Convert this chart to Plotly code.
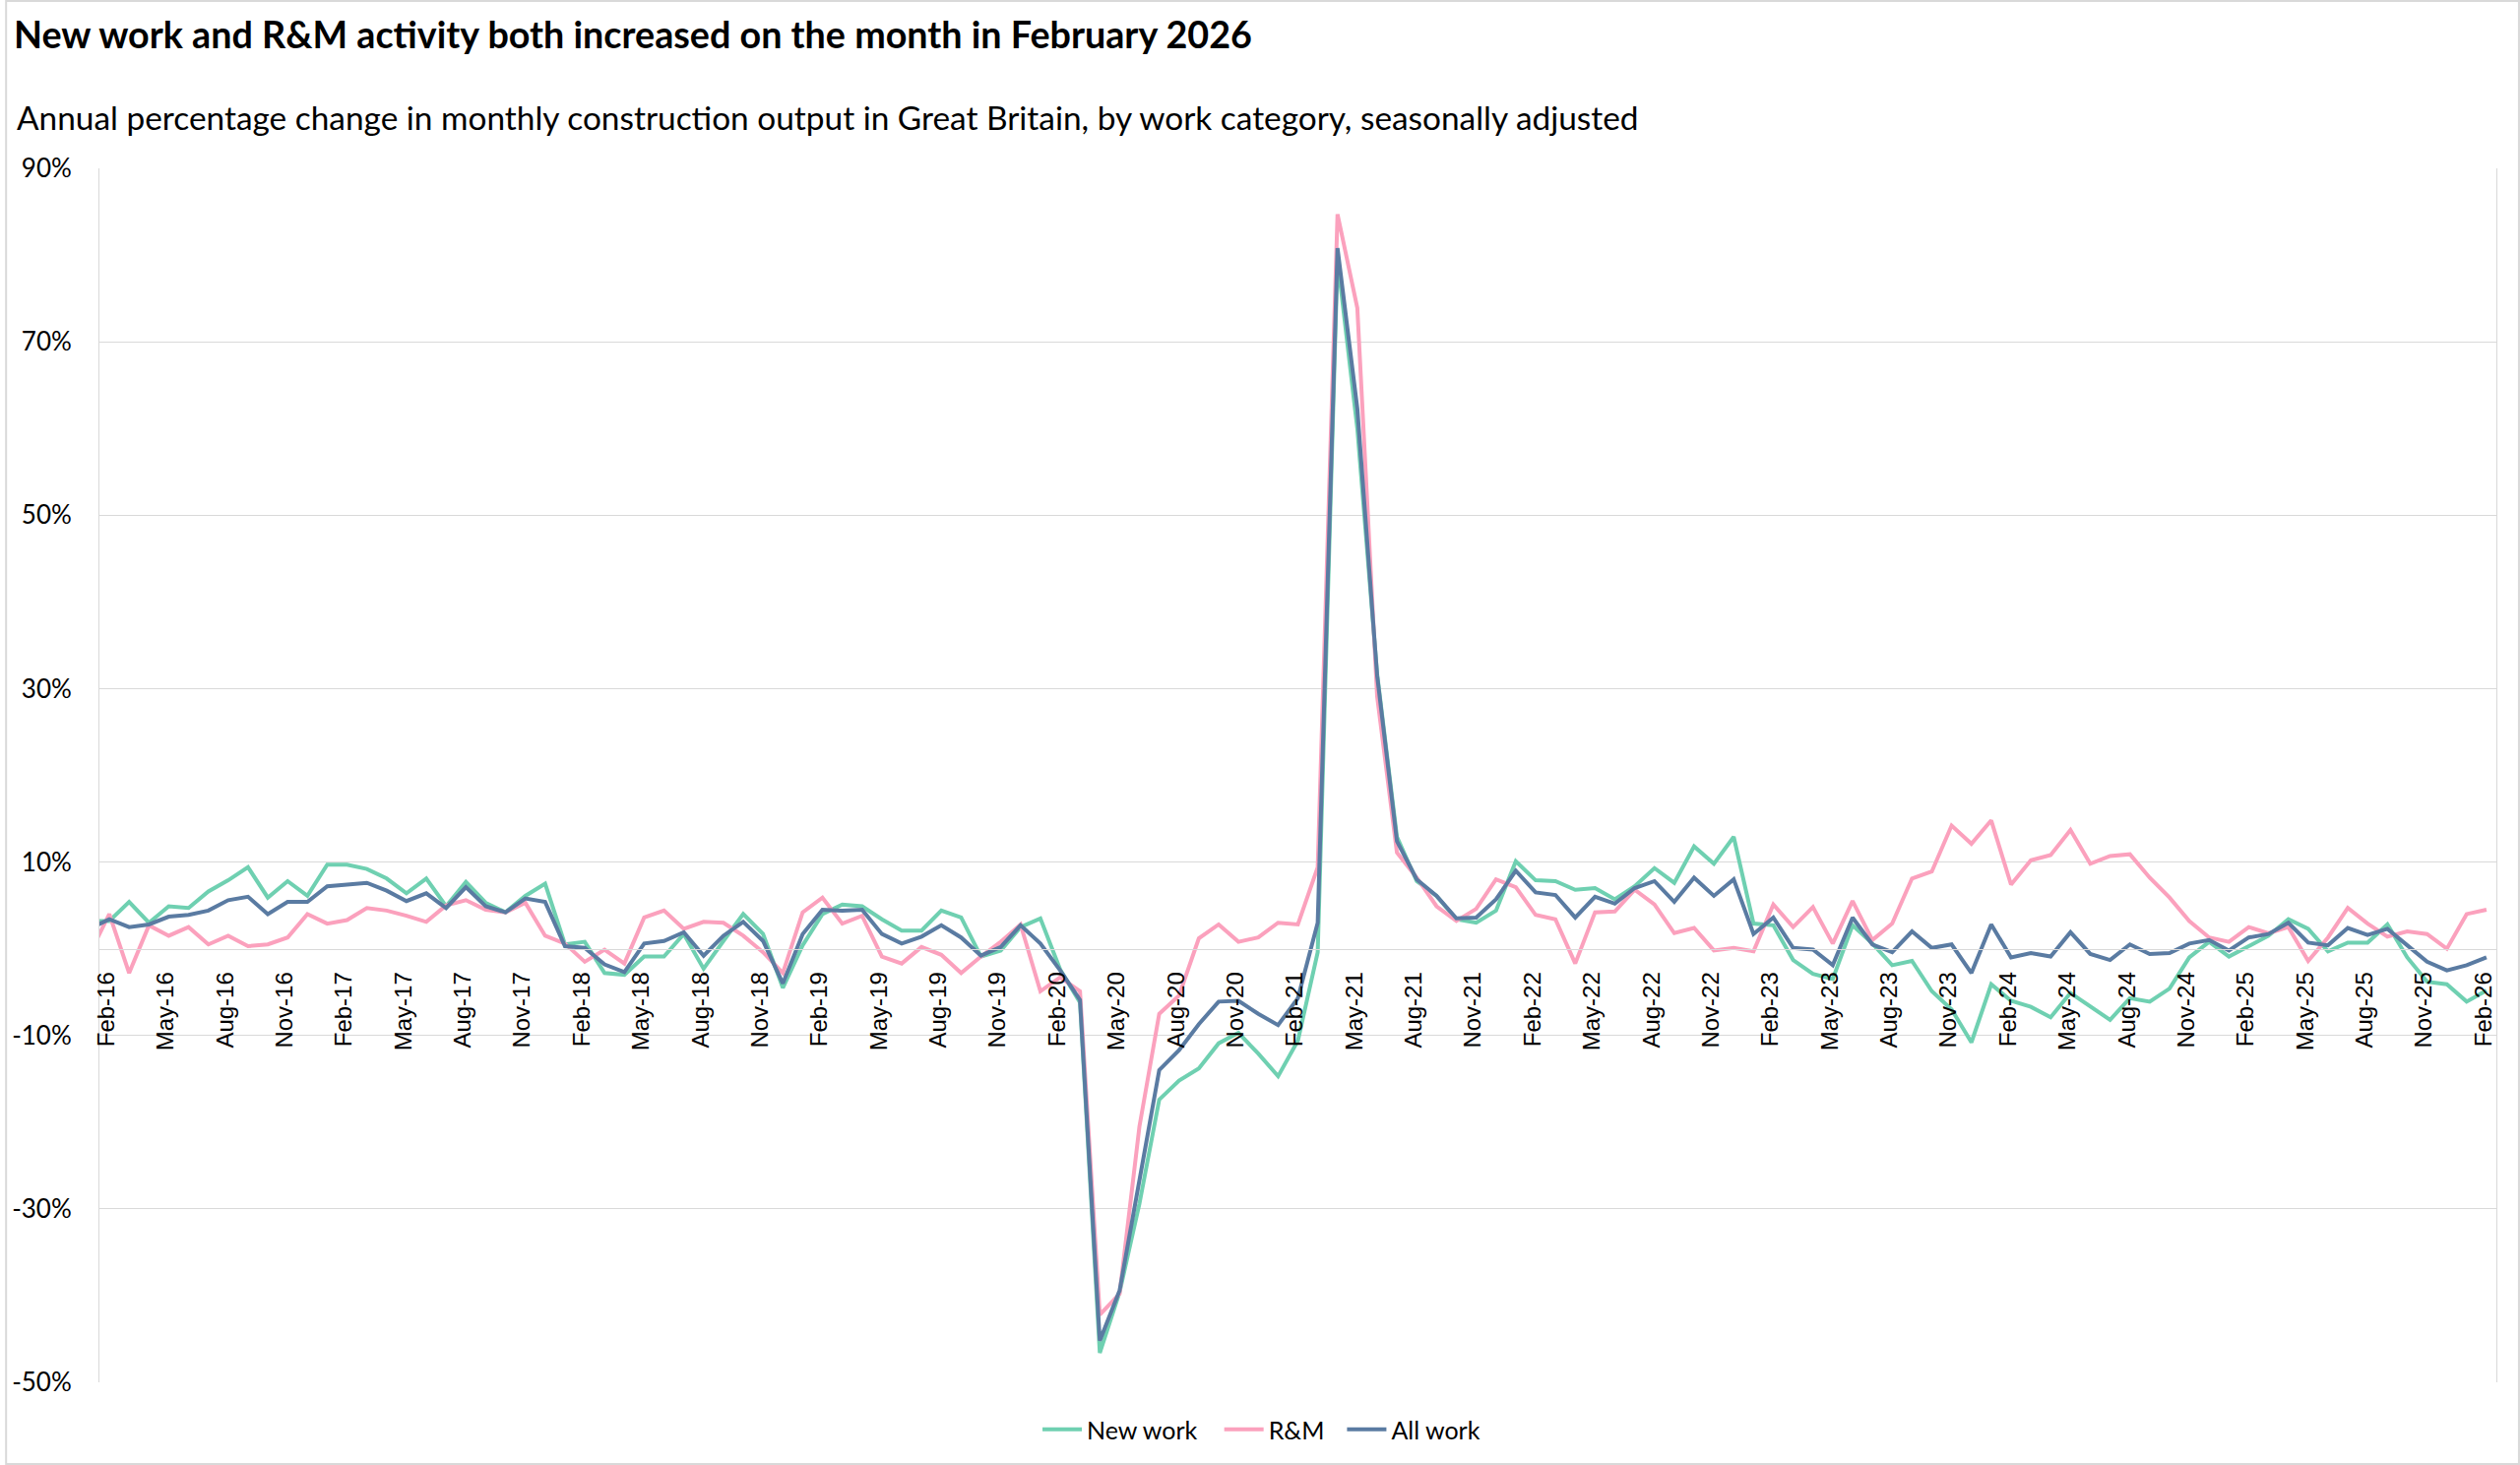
import pandas as pd
import plotly.graph_objects as go

# Monthly categories Jan-16 .. Feb-26 (Jan-16 is partly clipped at the left edge)
months = list(pd.date_range("2016-01-01", "2026-02-01", freq="MS").strftime("%b-%y"))
tick_labels = months[1::3]  # Feb-16, May-16, ... Feb-26

new_work = [
    3.2,
    3.2, 5.4, 3.0, 4.9, 4.7, 6.6, 7.9, 9.4, 5.9, 7.8, 6.1, 9.7,
    9.7, 9.2, 8.1, 6.4, 8.1, 4.9, 7.7, 5.3, 4.2, 6.1, 7.5, 0.5,
    0.8, -2.8, -3.0, -0.9, -0.9, 1.7, -2.3, 0.9, 4.0, 1.7, -4.5, 0.4,
    4.0, 5.1, 4.9, 3.4, 2.1, 2.1, 4.4, 3.6, -0.9, -0.2, 2.5, 3.5,
    -2.4, -6.2, -46.6, -39.6, -29.4, -17.4, -15.2, -13.8, -10.9, -9.7, -12.1, -14.7,
    -10.6, -0.4, 79.5, 60.0, 31.7, 12.9, 7.8, 6.1, 3.4, 3.0, 4.4, 10.1,
    7.9, 7.8, 6.8, 7.0, 5.7, 7.2, 9.3, 7.6, 11.8, 9.8, 12.9, 2.9,
    2.7, -1.3, -2.9, -3.5, 2.7, 0.6, -1.9, -1.4, -4.9, -7.0, -10.8, -4.1,
    -6.0, -6.7, -7.9, -5.1, -6.7, -8.2, -5.7, -6.1, -4.6, -1.0, 0.8, -0.9,
    0.3, 1.5, 3.4, 2.3, -0.3, 0.7, 0.7, 2.8, -1.0, -3.8, -4.1, -6.1,
    -4.8,
]

r_and_m = [
    -0.6,
    4.0, -2.8, 2.7, 1.5, 2.5, 0.5, 1.5, 0.3, 0.5, 1.3, 4.0, 2.9,
    3.3, 4.7, 4.4, 3.8, 3.1, 5.0, 5.6, 4.5, 4.2, 5.3, 1.5, 0.6,
    -1.5, -0.1, -1.7, 3.6, 4.4, 2.3, 3.1, 3.0, 1.5, -0.4, -2.8, 4.2,
    5.9, 2.9, 3.8, -0.9, -1.7, 0.2, -0.7, -2.8, -0.9, 0.8, 2.8, -4.9,
    -3.3, -4.9, -42.2, -39.8, -20.5, -7.5, -5.4, 1.2, 2.8, 0.8, 1.3, 3.0,
    2.8, 9.4, 84.7, 73.9, 29.1, 11.1, 8.2, 4.9, 3.2, 4.6, 8.0, 7.1,
    3.9, 3.4, -1.7, 4.2, 4.3, 6.8, 5.1, 1.8, 2.4, -0.2, 0.1, -0.3,
    5.1, 2.5, 4.8, 0.6, 5.5, 1.0, 2.9, 8.1, 8.9, 14.2, 12.1, 14.8,
    7.4, 10.2, 10.8, 13.7, 9.8, 10.7, 10.9, 8.2, 5.9, 3.2, 1.3, 0.8,
    2.5, 1.8, 2.5, -1.4, 1.3, 4.7, 2.9, 1.4, 2.0, 1.7, 0.0, 4.0,
    4.5,
]

all_work = [
    2.3,
    3.4, 2.5, 2.8, 3.7, 3.9, 4.4, 5.6, 6.0, 4.0, 5.4, 5.4, 7.2,
    7.4, 7.6, 6.7, 5.5, 6.4, 4.7, 7.1, 4.9, 4.2, 5.8, 5.4, 0.3,
    0.1, -1.8, -2.7, 0.6, 0.9, 1.9, -0.8, 1.5, 3.1, 0.9, -4.0, 1.7,
    4.5, 4.4, 4.5, 1.7, 0.6, 1.4, 2.7, 1.3, -0.8, 0.2, 2.7, 0.6,
    -2.5, -5.9, -45.2, -39.4, -26.7, -14.0, -11.7, -8.7, -6.1, -6.0, -7.5, -8.8,
    -5.7, 3.0, 80.8, 62.3, 31.5, 12.4, 8.0, 6.1, 3.5, 3.6, 5.7, 9.0,
    6.5, 6.2, 3.6, 6.0, 5.2, 7.0, 7.8, 5.4, 8.2, 6.1, 8.0, 1.7,
    3.6, 0.1, -0.1, -1.9, 3.6, 0.5, -0.4, 2.0, 0.1, 0.5, -2.8, 2.8,
    -1.0, -0.5, -0.9, 1.9, -0.6, -1.3, 0.5, -0.6, -0.5, 0.6, 1.0, -0.2,
    1.3, 1.7, 3.0, 0.7, 0.4, 2.4, 1.6, 2.3, 0.4, -1.5, -2.5, -1.9,
    -1.0,
]

y_ticks = [-50, -30, -10, 10, 30, 50, 70, 90]
y_range = [-50, 90]

series_names = ["New work", "R&M", "All work"]
series_colors = ["#6fd0b1", "#fba1bd", "#5a7ba2"]
legend_ids = ["legend", "legend2", "legend3"]
legend_px = [1051, 1236, 1361]  # left edge of each legend entry, in page pixels

W, H = 2560, 1488
ML, MR, MT, MB = 96, 24, 171, 84
PW, PH = W - ML - MR, H - MT - MB

fig = go.Figure()
for name, vals, color, lid in zip(series_names, [new_work, r_and_m, all_work],
                                  series_colors, legend_ids):
    fig.add_trace(go.Scatter(x=months, y=vals, mode="lines", name=name, legend=lid,
                             showlegend=True, line=dict(color=color, width=4)))

grid = "#d9d9d9"
legend_font = dict(family="Lato", size=25, color="#000000")
legend_y = -(1452 - (MT + PH)) / PH
legends = {}
for lid, px in zip(legend_ids, legend_px):
    legends[lid] = dict(orientation="h", x=(px - ML) / PW, xanchor="left",
                        y=legend_y, yanchor="middle", font=legend_font,
                        itemwidth=40, bgcolor="rgba(0,0,0,0)")

fig.update_layout(
    width=W, height=H,
    margin=dict(l=ML, r=MR, t=MT, b=MB),
    paper_bgcolor="white", plot_bgcolor="white",
    showlegend=True,
    font=dict(family="Lato", color="#000000"),
    title=dict(text="<b>New work and R&M activity both increased on the month in February 2026</b>",
               font=dict(family="Lato", size=37.7, color="#000000"),
               x=14 / W, xref="container", xanchor="left",
               y=1 - 36 / H, yref="container", yanchor="middle"),
    annotations=[dict(
        text="Annual percentage change in monthly construction output in Great Britain, by work category, seasonally adjusted",
        font=dict(family="Lato", size=33.4, color="#000000"),
        xref="paper", x=(10 - ML) / PW, xanchor="left",
        yref="paper", y=1 + (MT - 119) / PH, yanchor="middle",
        showarrow=False)],
    xaxis=dict(type="category", range=[0.5, len(months) - 0.5],
               tickmode="array", tickvals=tick_labels, ticktext=tick_labels,
               tickangle=-90, ticks="", showgrid=False,
               showline=True, linecolor=grid, linewidth=1,
               anchor="free", position=(0 - y_range[0]) / (y_range[1] - y_range[0]),
               tickfont=dict(family="Liberation Sans", size=24, color="#000000"),
               ticklabelstandoff=13, ticklabelshift=-3),
    yaxis=dict(range=y_range, tickmode="array", tickvals=y_ticks,
               ticktext=[f"{v}%" for v in y_ticks],
               showgrid=True, gridcolor=grid, gridwidth=1, zeroline=False,
               showline=True, linecolor=grid, linewidth=1, mirror=True,
               ticks="", tickfont=dict(family="Lato", size=26, color="#000000"),
               ticklabelstandoff=22),
    shapes=[dict(type="rect", xref="paper", yref="paper",
                 x0=-(ML - 1) / PW, x1=1 + (MR - 1) / PW,
                 y0=-(MB - 1) / PH, y1=1 + (MT - 1) / PH,
                 line=dict(color=grid, width=2), layer="below")],
    **legends,
)

fig.write_html("out.html", config={"displayModeBar": False},
               post_script="document.body.style.margin='0';")
